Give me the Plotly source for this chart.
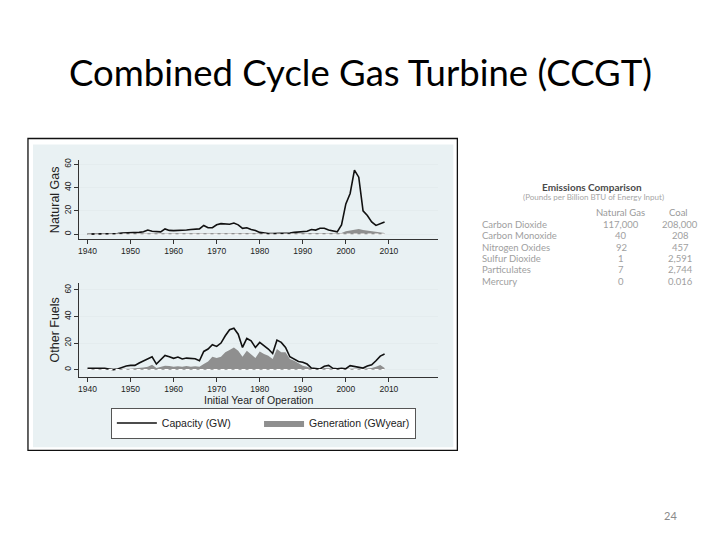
import plotly.graph_objects as go

# ---------------- data ----------------
years = list(range(1940, 2010))

ng_capacity = [
    0, 0, 0, 0, 0, 0.2, 0.3, 0.5, 1, 1,                 # 1940s
    1, 1.2, 1.5, 2, 3.5, 2.5, 2.5, 2, 4.5, 3.2,         # 1950s
    3, 3, 3.2, 3.5, 4, 4.2, 4.5, 7.5, 5.5, 5.5,         # 1960s
    8, 9, 9, 8.5, 9.5, 8, 5, 5.5, 4, 3.2,               # 1970s
    1.5, 0.7, 0.5, 0.5, 0.5, 0.5, 0.7, 1, 1.5, 2,       # 1980s
    2.5, 2.5, 4, 3.5, 5, 5, 3.5, 2.5, 2, 8,             # 1990s
    26, 35, 55, 49, 20, 16, 10.5, 7.5, 9, 10.5,         # 2000s
]
ng_generation = [
    0.8, 0.8, 0.8, 0.8, 0.8, 0.8, 0.8, 0.8, 0.8, 0.8,
    0.8, 0.8, 0.8, 0.8, 0.8, 0.8, 0.8, 0.8, 0.8, 0.8,
    0.8, 0.8, 0.8, 0.8, 0.8, 0.8, 0.8, 0.8, 0.8, 0.8,
    0.8, 0.8, 0.8, 0.8, 0.8, 0.8, 0.8, 0.8, 0.8, 0.8,
    0.8, 0.8, 0.8, 0.8, 0.8, 0.8, 0.8, 0.8, 0.8, 0.8,
    0.8, 0.8, 0.8, 0.8, 0.8, 0.8, 0.8, 0.8, 0.8, 1,
    2.5, 3, 3.5, 4.5, 3.5, 3, 2, 1.5, 1, 1,
]
other_capacity = [
    1, 1, 1.2, 1.2, 1, 0.5, 0, 0.5, 1.7, 2.7,
    3.2, 3.2, 5, 6.7, 8.2, 9.7, 4.2, 7.2, 10.7, 9.7,
    8.5, 9.5, 8, 8.7, 8.2, 8.2, 6.7, 13.7, 15.5, 18.7,
    17.5, 20, 25.5, 30, 31.2, 26.7, 16.7, 23.5, 21.7, 16.7,
    20.5, 18, 15.5, 12.2, 22.2, 20.5, 16.7, 9.7, 7.7, 6.2,
    5.5, 4.2, 1.2, 1, 0.5, 2.5, 3.2, 1, 0.7, 1,
    0.7, 3, 2.5, 2, 1.2, 2.7, 3.7, 6.7, 10.2, 11.7,
]
other_generation = [
    0.5, 0.5, 0.5, 0.5, 0.5, 0.3, 0.3, 0.3, 0.5, 0.6,
    0.7, 1, 1.2, 1.7, 2.2, 3.7, 1.2, 2.2, 3, 2.7,
    2.2, 2.5, 2.2, 2.7, 2.2, 2.5, 2.2, 4.2, 6.2, 9.7,
    8.7, 9.7, 13, 14.7, 16.7, 14.2, 9.7, 14.2, 11.7, 8.7,
    13.7, 11.7, 10.5, 8, 15.5, 13, 13, 8, 6.7, 4.7,
    3, 2.2, 1, 0.8, 0.5, 1.2, 1, 0.6, 0.6, 0.6,
    0.6, 0.8, 1, 0.8, 0.6, 0.8, 1.2, 2.2, 3.5, 1.2,
]

x_ticks = [1940, 1950, 1960, 1970, 1980, 1990, 2000, 2010]
y_ticks = [0, 20, 40, 60]

table_rows = ["Carbon Dioxide", "Carbon Monoxide", "Nitrogen Oxides",
              "Sulfur Dioxide", "Particulates", "Mercury"]
table_gas = ["117,000", "40", "92", "1", "7", "0"]
table_coal = ["208,000", "208", "457", "2,591", "2,744", "0.016"]

# ---------------- helpers ----------------
# the page body has an 8px margin, so the figure sits at (8, 8)
OFF = 8
W, H = 720 - OFF, 540 - OFF


def px(x):
    return (x - OFF) / W


def py(y):
    return 1 - (y - OFF) / H


GRAY = "#8f8f8f"
PAD = "\u00a0" * 8  # spacing between the two legend entries
fig = go.Figure()

# Natural gas panel (x, y)
fig.add_trace(go.Scatter(x=years, y=ng_generation, mode="lines", fill="tozeroy",
                         fillcolor=GRAY, line=dict(width=0, color=GRAY),
                         name="Generation (GWyear)", legendrank=2,
                         xaxis="x", yaxis="y", showlegend=True))
fig.add_trace(go.Scatter(x=years, y=ng_capacity, mode="lines",
                         line=dict(width=1.6, color="#111111"),
                         name="Capacity (GW)" + PAD, legendrank=1,
                         xaxis="x", yaxis="y", showlegend=True))
# Other fuels panel (x2, y2)
fig.add_trace(go.Scatter(x=years, y=other_generation, mode="lines", fill="tozeroy",
                         fillcolor=GRAY, line=dict(width=0, color=GRAY),
                         name="Generation (GWyear)", showlegend=False,
                         xaxis="x2", yaxis="y2"))
fig.add_trace(go.Scatter(x=years, y=other_capacity, mode="lines",
                         line=dict(width=1.6, color="#111111"),
                         name="Capacity (GW)", showlegend=False,
                         xaxis="x2", yaxis="y2"))

tickfont = dict(family="Liberation Sans, Arial, sans-serif", size=8.5, color="#222222")
axis_common = dict(
    showline=True, linecolor="#333333", linewidth=1,
    ticks="outside", ticklen=4, tickcolor="#333333", tickwidth=1,
    tickfont=tickfont, zeroline=False,
)
ytitle_font = dict(family="Liberation Sans, Arial", size=12.5, color="#222222")

xr = [1938, 2021.5]
fig.update_layout(
    xaxis=dict(domain=[px(78), px(438)], range=xr, tickvals=x_ticks,
               showgrid=False, anchor="y", **axis_common),
    yaxis=dict(domain=[py(238), py(159)], range=[-4.3, 63.4], tickvals=y_ticks,
               tickangle=-90, showgrid=True, gridcolor="#e4ecee", gridwidth=1,
               anchor="x",
               title=dict(text="Natural Gas", standoff=0, font=ytitle_font),
               **axis_common),
    xaxis2=dict(domain=[px(78), px(438)], range=xr, tickvals=x_ticks,
                showgrid=False, anchor="y2",
                title=dict(text="Initial Year of Operation", standoff=1,
                           font=dict(family="Liberation Sans, Arial", size=10.5, color="#222222")),
                **axis_common),
    yaxis2=dict(domain=[py(376), py(282)], range=[-5.25, 65.25], tickvals=y_ticks,
                tickangle=-90, showgrid=True, gridcolor="#e4ecee", gridwidth=1,
                anchor="x2",
                title=dict(text="Other Fuels", standoff=0, font=ytitle_font),
                **axis_common),
)

# white dashed baseline over the generation areas
for xa, ya in (("x", "y"), ("x2", "y2")):
    fig.add_shape(type="line", xref=xa, yref=ya, x0=years[0], x1=years[-1], y0=0, y1=0,
                  line=dict(color="white", width=1.3, dash="4px,3px"), layer="above")

# chart image frame and background
fig.add_shape(type="rect", xref="paper", yref="paper",
              x0=px(32), x1=px(453), y0=py(447), y1=py(143),
              fillcolor="#e9f1f3", line=dict(width=0), layer="below")
fig.add_shape(type="rect", xref="paper", yref="paper",
              x0=px(27), x1=px(457), y0=py(450), y1=py(137),
              fillcolor="rgba(0,0,0,0)", line=dict(color="#111111", width=1.3), layer="above")

annotations = []
# slide title
annotations.append(dict(text="Combined Cycle Gas Turbine (CCGT)", x=px(360), y=py(70),
                        xref="paper", yref="paper", showarrow=False,
                        xanchor="center", yanchor="middle",
                        font=dict(family="Lato, Carlito, sans-serif", size=36.5, color="#000000")))
# page number
annotations.append(dict(text="24", x=px(670), y=py(515), xref="paper", yref="paper",
                        showarrow=False, xanchor="center", yanchor="middle",
                        font=dict(family="Lato, sans-serif", size=11, color="#8a8a8a")))
# emissions table
tfont = "Lato, Open Sans, sans-serif"
annotations.append(dict(text="<b>Emissions Comparison</b>", x=px(592), y=py(186),
                        xref="paper", yref="paper", showarrow=False,
                        xanchor="center", yanchor="middle",
                        font=dict(family=tfont, size=10, color="#4a4a4a")))
annotations.append(dict(text="(Pounds per Billion BTU of Energy Input)", x=px(593), y=py(195.5),
                        xref="paper", yref="paper", showarrow=False,
                        xanchor="center", yanchor="middle",
                        font=dict(family=tfont, size=8, color="#a6a6a6")))
annotations.append(dict(text="Natural Gas", x=px(620), y=py(211.5), xref="paper", yref="paper",
                        showarrow=False, xanchor="center", yanchor="middle",
                        font=dict(family=tfont, size=9.5, color="#999999")))
annotations.append(dict(text="Coal", x=px(678), y=py(211.5), xref="paper", yref="paper",
                        showarrow=False, xanchor="center", yanchor="middle",
                        font=dict(family=tfont, size=9.5, color="#999999")))
for i, (lab, g, c) in enumerate(zip(table_rows, table_gas, table_coal)):
    yy = py(223.3 + i * 11.4)
    annotations.append(dict(text=lab, x=px(480), y=yy, xref="paper", yref="paper",
                            showarrow=False, xanchor="left", yanchor="middle",
                            font=dict(family=tfont, size=9.5, color="#a0a0a0")))
    annotations.append(dict(text=g, x=px(621), y=yy, xref="paper", yref="paper",
                            showarrow=False, xanchor="center", yanchor="middle",
                            font=dict(family=tfont, size=9.5, color="#a0a0a0")))
    annotations.append(dict(text=c, x=px(680), y=yy, xref="paper", yref="paper",
                            showarrow=False, xanchor="center", yanchor="middle",
                            font=dict(family=tfont, size=9.5, color="#a0a0a0")))

fig.update_layout(
    width=W, height=H,
    margin=dict(l=0, r=0, t=0, b=0),
    paper_bgcolor="white", plot_bgcolor="white",
    annotations=annotations,
    showlegend=True,
    legend=dict(orientation="h", x=px(110), y=py(407), xanchor="left", yanchor="top",
                bgcolor="white", bordercolor="#555555", borderwidth=1,
                font=dict(family="Liberation Sans, Arial", size=10.5, color="#222222"),
                tracegroupgap=0, itemwidth=40),
)

fig.write_html("out.html")
